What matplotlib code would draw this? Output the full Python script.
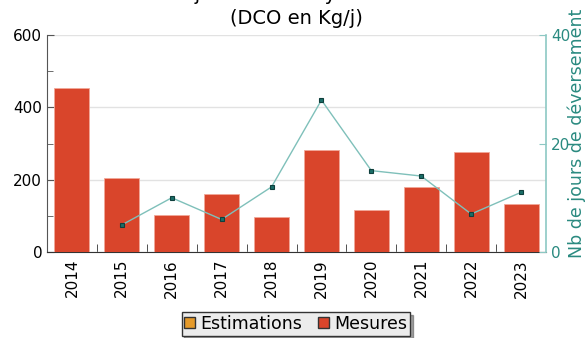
import matplotlib
matplotlib.use("Agg")
import matplotlib.pyplot as plt
from matplotlib.patches import Patch
from matplotlib.ticker import MultipleLocator

years = ["2014", "2015", "2016", "2017", "2018", "2019", "2020", "2021", "2022", "2023"]
mesures = [454, 205, 103, 161, 96, 283, 117, 180, 276, 133]
jours_years = ["2015", "2016", "2017", "2018", "2019", "2020", "2021", "2022", "2023"]
jours = [5, 10, 6, 12, 28, 15, 14, 7, 11]
title_line1 = "Flux journalier moyen déversé"
title_line2 = "(DCO en Kg/j)"
ylabel_right = "Nb de jours de déversement"
legend_labels = ["Estimations", "Mesures"]

RED = "#d9452b"
ORANGE = "#e59a2a"
TEAL = "#2a8a80"
TEAL_LIGHT = "#7fc0ba"

fig = plt.figure(figsize=(5.85, 3.38), dpi=100)
ax = fig.add_axes([47/585, 1-252/338, (546-47)/585, (252-35)/338])

x = list(range(len(years)))
ax.bar(x, mesures, width=0.7, color=RED, edgecolor="#f2a898", linewidth=0.6, zorder=3)
ax.set_xlim(-0.5, len(years)-0.5)
ax.set_ylim(0, 600)
ax.yaxis.set_major_locator(MultipleLocator(200))
ax.yaxis.set_minor_locator(MultipleLocator(100))
ax.grid(axis="y", color="#e2e2e2", linewidth=1, zorder=0)
ax.set_xticks(x)
ax.set_xticklabels(years, rotation=90, fontsize=11)
ax.tick_params(axis="x", length=0, pad=5)
ax.set_xticks([i + 0.5 for i in x[:-1]], minor=True)
ax.tick_params(axis="x", which="minor", direction="in", length=6, color="#333333")
ax.tick_params(axis="y", which="both", direction="in", color="#555555", labelsize=11)
ax.tick_params(axis="y", which="major", length=5)
ax.tick_params(axis="y", which="minor", length=4)
for s in ["top", "right"]:
    ax.spines[s].set_visible(False)
ax.spines["left"].set_color("#555555")
ax.spines["bottom"].set_color("#333333")

ax2 = ax.twinx()
ax2.set_ylim(0, 40)
ax2.yaxis.set_major_locator(MultipleLocator(20))
xi = [years.index(y) for y in jours_years]
ax2.plot(xi, jours, color=TEAL_LIGHT, linewidth=1, marker="s", markersize=3.5,
         markerfacecolor="#1a6e68", markeredgecolor="#0f3f3c", markeredgewidth=0.8, zorder=4)
for s in ["top", "left", "bottom"]:
    ax2.spines[s].set_visible(False)
ax2.spines["right"].set_color("#8cc8c3")
ax2.spines["right"].set_linewidth(1.2)
ax2.tick_params(axis="y", direction="in", length=5, color="#8cc8c3", labelcolor=TEAL, labelsize=11)
ax2.set_ylabel(ylabel_right, color=TEAL, fontsize=12.5)
ax2.yaxis.set_label_coords(1.062, 0.545)
ax2.yaxis.label.set_verticalalignment("center")

fig.text(296/585, 1.0, title_line1, ha="center", va="baseline", fontsize=14)
fig.text(296/585, 1-24/338, title_line2, ha="center", va="baseline", fontsize=14)

handles = [Patch(facecolor=ORANGE, edgecolor="#333333"), Patch(facecolor=RED, edgecolor="#333333")]
leg = fig.legend(handles, legend_labels, loc="center", bbox_to_anchor=(296/585, 1-324/338),
                 ncol=2, fontsize=12.5, frameon=True, shadow=True, fancybox=False,
                 handlelength=0.6, handleheight=0.6, handletextpad=0.35, columnspacing=0.9,
                 borderpad=0.15, borderaxespad=0)
leg.get_frame().set_facecolor("#ececec")
leg.get_frame().set_edgecolor("#333333")
leg.get_frame().set_alpha(1)

fig.savefig("out.png", dpi=100)
